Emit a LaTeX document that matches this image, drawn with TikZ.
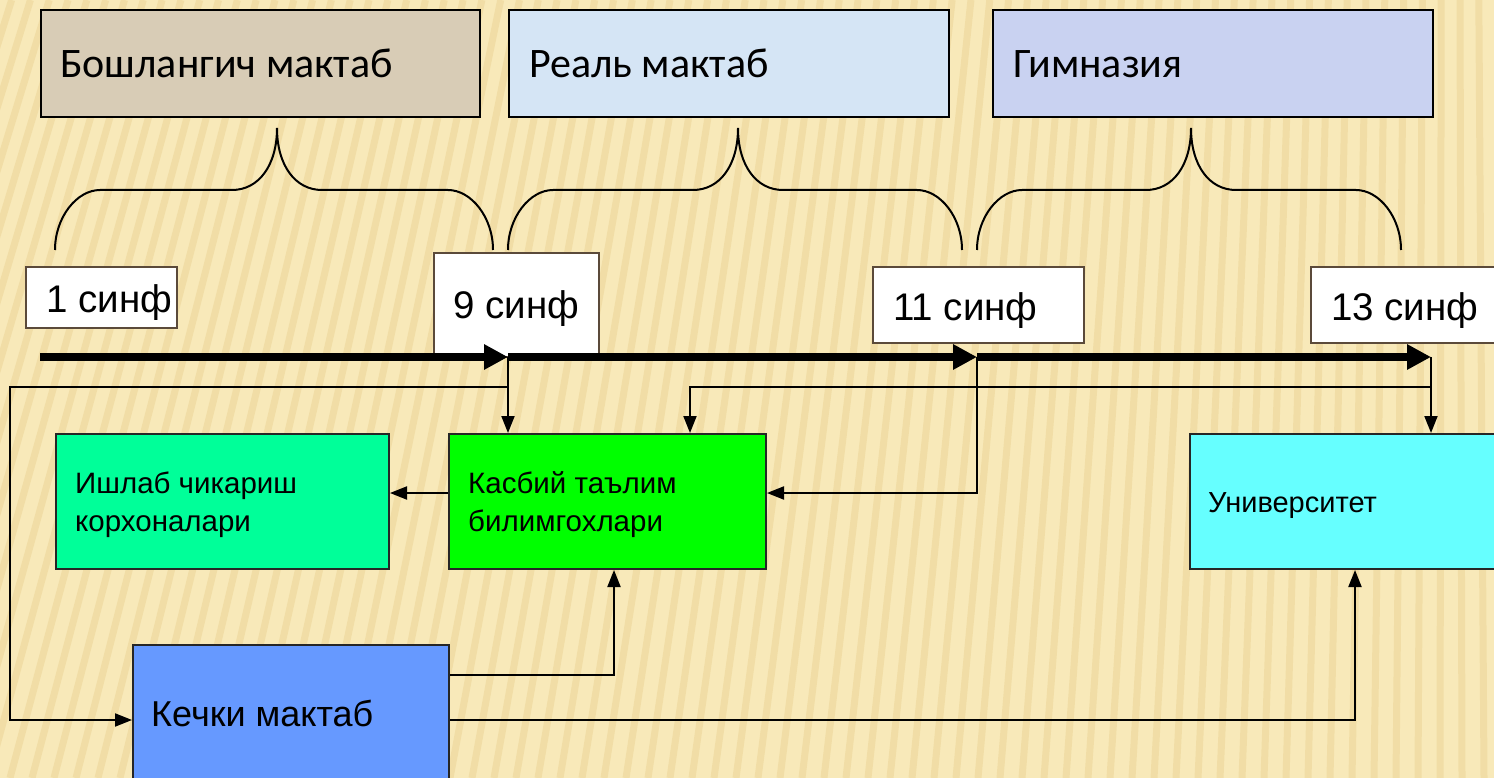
\documentclass[tikz,border=0pt]{standalone}
\usepackage{fontspec}
\setmainfont{Liberation Sans}
\newfontfamily\calfont{Carlito}
\usetikzlibrary{arrows.meta,calc}
\definecolor{bgbase}{HTML}{F8E9B9}
\definecolor{bgstripe}{HTML}{E4C983}
\definecolor{texA}{HTML}{D8CCB6}
\definecolor{texB}{HTML}{D5E5F5}
\definecolor{texC}{HTML}{C9D2F1}
\definecolor{classline}{HTML}{5B4A3A}
\definecolor{ishcol}{HTML}{00FF99}
\definecolor{kascol}{HTML}{00FF00}
\definecolor{unicol}{HTML}{66FFFF}
\definecolor{kechcol}{HTML}{6699FF}
\newcommand{\mybrace}[3]{%
  \draw[bracesty] (#1,250) .. controls (#1,217) and ({#1+22},190) .. ({#1+45},190)
    -- ({#3-45},190) .. controls ({#3-18},190) and (#3,165) .. (#3,128)
    .. controls (#3,165) and ({#3+18},190) .. ({#3+45},190)
    -- ({#2-45},190) .. controls ({#2-22},190) and (#2,217) .. (#2,250);}
\begin{document}
\begin{tikzpicture}[x=1pt,y=-1pt,
  topbox/.style={draw=black,line width=2pt,anchor=north west,inner sep=0pt},
  toplabel/.style={anchor=base west,inner sep=0pt,font=\calfont\fontsize{42}{50}\selectfont},
  classbox/.style={draw=classline,fill=white,line width=2pt,anchor=north west,inner sep=0pt},
  classlabel/.style={anchor=base west,inner sep=0pt,font=\fontsize{38.5}{44}\selectfont},
  bracesty/.style={draw=black,line width=2pt},
  thickarrow/.style={line width=8pt,-{Triangle[length=24pt,width=24pt]}},
  thinarrow/.style={line width=2pt,-{Triangle[length=17pt,width=13pt]}},
  instbox/.style={draw=black!85,line width=2pt,anchor=north west,inner sep=0pt},
  instlabel/.style={anchor=base west,inner sep=0pt,font=\fontsize{29.5}{36}\selectfont}]
\useasboundingbox (0,0) rectangle (1494,778);
% background
\begin{scope}
  \clip (0,0) rectangle (1494,778);
  \fill[bgbase] (0,0) rectangle (1494,778);
  \foreach \i in {-320,-298,...,1530} {
    \draw[bgstripe,line width=7pt,opacity=0.35] (\i,778) -- ({\i+210-0.145*\i},0);
  }
\end{scope}
% top boxes
\node[topbox,fill=texA,minimum width=439pt,minimum height=107pt] (boxA) at (40,9) {};
\node[topbox,fill=texB,minimum width=440pt,minimum height=107pt] (boxB) at (508,9) {};
\node[topbox,fill=texC,minimum width=440pt,minimum height=107pt] (boxC) at (992,9) {};
\node[toplabel] (labA) at (60,78) {Бошлангич мактаб};
\node[toplabel] (labB) at (529,78) {Реаль мактаб};
\node[toplabel] (labC) at (1013,78) {Гимназия};
% braces
\mybrace{55}{493}{277}
\mybrace{508}{962}{738}
\mybrace{977}{1401}{1191}
% class boxes
\node[classbox,minimum width=151pt,minimum height=61pt] (c1) at (25,266) {};
\node[classbox,minimum width=165pt,minimum height=104pt] (c9) at (433,252) {};
\node[classbox,minimum width=211pt,minimum height=76pt] (c11) at (872,266) {};
\node[classbox,minimum width=200pt,minimum height=76pt] (c13) at (1310,266) {};
\node[classlabel] (l1) at (46,312) {1 синф};
\node[classlabel] (l9) at (453,318) {9 синф};
\node[classlabel] (l11) at (893,320) {11 синф};
\node[classlabel] (l13) at (1331,320) {13 синф};
% timeline
\coordinate (s0) at (40,357);
\coordinate (j9) at (508,357);
\coordinate (j11) at (977,357);
\coordinate (j13) at (1431,357);
\draw[thickarrow] (s0) -- (j9);
\draw[thickarrow] (j9) -- (j11);
\draw[thickarrow] (j11) -- (j13);
% institution boxes
\node[instbox,fill=ishcol,minimum width=333pt,minimum height=135pt] (ish) at (55,433) {};
\node[instbox,fill=kascol,minimum width=317pt,minimum height=135pt] (kas) at (448,433) {};
\node[instbox,fill=unicol,minimum width=310pt,minimum height=135pt] (uni) at (1189,433) {};
\node[instbox,fill=kechcol,minimum width=316pt,minimum height=140pt] (kech) at (132,644) {};
\node[instlabel] (ish1) at (75,493) {Ишлаб чикариш};
\node[instlabel] (ish2) at (75,531) {корхоналари};
\node[instlabel] (kas1) at (468,493) {Касбий таълим};
\node[instlabel] (kas2) at (468,531) {билимгохлари};
\node[instlabel,font=\fontsize{29}{34}\selectfont] (unil) at (1208,512) {Университет};
\node[instlabel,font=\fontsize{36}{42}\selectfont] (kechl) at (151,726) {Кечки мактаб};
% connectors
\coordinate (lt) at (10,387);
\coordinate (lb) at (10,720);
\coordinate (rt) at (690,387);
\coordinate (k11) at (977,493);
\coordinate (kup) at (614,675);
\coordinate (uup) at (1355,720);
\coordinate (kasw) at (448,493);
\draw[thinarrow] (j9) -- (j9 |- kas.north);
\draw[thinarrow] (j9 |- lt) -- (lt) -- (lb) -- (lb -| kech.west);
\draw[thinarrow] (j13) -- (j13 |- uni.north);
\draw[thinarrow] (j13 |- rt) -- (rt) -- (rt |- kas.north);
\draw[thinarrow] (j11) -- (k11) -- (k11 -| kas.east);
\draw[thinarrow] (kasw) -- (kasw -| ish.east);
\draw[thinarrow] (kup -| kech.east) -- (kup) -- (kup |- kas.south);
\draw[thinarrow] (uup -| kech.east) -- (uup) -- (uup |- uni.south);
\end{tikzpicture}
\end{document}
